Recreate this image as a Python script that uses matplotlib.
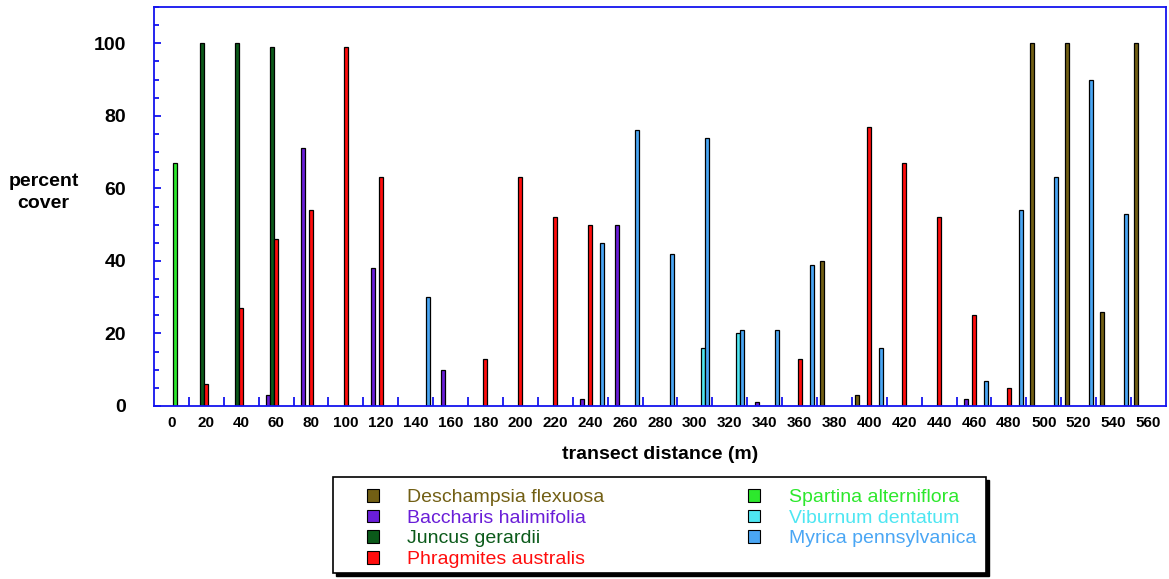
import numpy as np
import matplotlib.pyplot as plt
from matplotlib.patches import Patch, Rectangle
from matplotlib.ticker import MultipleLocator, FixedLocator

plt.rcParams['font.family'] = ['Liberation Sans', 'DejaVu Sans']

# transect positions (m)
distance = [0, 20, 40, 60, 80, 100, 120, 140, 160, 180, 200, 220, 240, 260,
            280, 300, 320, 340, 360, 380, 400, 420, 440, 460, 480, 500, 520,
            540, 560]

species = ['Deschampsia flexuosa', 'Baccharis halimifolia', 'Juncus gerardii',
           'Phragmites australis', 'Spartina alterniflora', 'Viburnum dentatum',
           'Myrica pennsylvanica']

# percent cover at each transect position
deschampsia = [0, 0, 0, 0, 0, 0, 0, 0, 0, 0, 0, 0, 0, 0, 0, 0, 0, 0, 0, 40,
               3, 0, 0, 0, 0, 100, 100, 26, 100]
baccharis = [0, 0, 0, 3, 71, 0, 38, 0, 10, 0, 0, 0, 2, 50, 0, 0, 0, 1, 0, 0,
             0, 0, 0, 2, 0, 0, 0, 0, 0]
juncus = [0, 100, 100, 99, 0, 0, 0, 0, 0, 0, 0, 0, 0, 0, 0, 0, 0, 0, 0, 0,
          0, 0, 0, 0, 0, 0, 0, 0, 0]
phragmites = [0, 6, 27, 46, 54, 99, 63, 0, 0, 13, 63, 52, 50, 0, 0, 0, 0, 0,
              13, 0, 77, 67, 52, 25, 5, 0, 0, 0, 0]
spartina = [67, 0, 0, 0, 0, 0, 0, 0, 0, 0, 0, 0, 0, 0, 0, 0, 0, 0, 0, 0,
            0, 0, 0, 0, 0, 0, 0, 0, 0]
viburnum = [0, 0, 0, 0, 0, 0, 0, 0, 0, 0, 0, 0, 0, 0, 0, 16, 20, 0, 0, 0,
            0, 0, 0, 0, 0, 0, 0, 0, 0]
myrica = [0, 0, 0, 0, 0, 0, 0, 30, 0, 0, 0, 0, 45, 76, 42, 74, 21, 21, 39, 0,
          16, 0, 0, 7, 54, 63, 90, 53, 0]

series = [deschampsia, baccharis, juncus, phragmites, spartina, viburnum, myrica]
colors = ['#725f14', '#6a1ed8', '#0b5a1a', '#ff0d0d', '#2de82d', '#4ee6f2',
          '#4aa6f4']
axis_blue = '#1414ee'

fig = plt.figure(figsize=(11.69, 5.79), dpi=100)
ax = fig.add_axes([0.1317, 0.2988, 0.8657, 0.6891])

pos = np.arange(len(distance))
slot = 0.115
for i, (vals, c) in enumerate(zip(series, colors)):
    vals = np.array(vals, dtype=float)
    m = vals > 0
    ax.bar(pos[m] + (i - 3) * slot, vals[m], width=slot, color=c,
           edgecolor='black', linewidth=0.9, zorder=2)

ax.set_xlim(-0.5, len(distance) - 0.5)
ax.set_ylim(0, 110)

for s in ax.spines.values():
    s.set_color(axis_blue)
    s.set_linewidth(1.3)

# x: labels at group centres, short blue ticks between groups
ax.set_xticks(pos)
ax.set_xticklabels([str(d) for d in distance], fontsize=11, fontweight='bold')
ax.xaxis.set_minor_locator(FixedLocator(pos[:-1] + 0.5))
ax.tick_params(axis='x', which='major', length=0, pad=7)
ax.tick_params(axis='x', which='minor', direction='in', length=6.5,
               width=1.3, color=axis_blue)

ax.set_yticks([0, 20, 40, 60, 80, 100])
ax.set_yticklabels(['0', '20', '40', '60', '80', '100'], fontsize=14,
                   fontweight='bold')
ax.yaxis.set_minor_locator(MultipleLocator(5))
ax.tick_params(axis='y', which='major', direction='in', length=5, width=1.3,
               color=axis_blue, pad=20)
ax.tick_params(axis='y', which='minor', direction='in', length=3.5, width=1.3,
               color=axis_blue)
ax.tick_params(top=False, right=False, which='both')

ax.set_xlabel('transect distance (m)', fontsize=14, fontweight='bold',
              labelpad=12)
ax.set_ylabel('percent\ncover', fontsize=14, fontweight='bold', rotation=0,
              ha='center', va='center', linespacing=1.45)
ax.yaxis.set_label_coords(-0.109, 0.535)

# legend box with a solid drop shadow
W, H = 1169, 579
bx0, bx1, by0, by1 = 333, 986, 477, 573
fig.patches.append(Rectangle(((bx0 + 3) / W, 1 - (by1 + 3) / H),
                             (bx1 - bx0) / W, (by1 - by0) / H,
                             transform=fig.transFigure, facecolor='black',
                             edgecolor='black', zorder=1))
fig.patches.append(Rectangle((bx0 / W, 1 - by1 / H),
                             (bx1 - bx0) / W, (by1 - by0) / H,
                             transform=fig.transFigure, facecolor='white',
                             edgecolor='black', linewidth=1.2, zorder=2))

handles = [Patch(facecolor=c, edgecolor='black', linewidth=0.8) for c in colors]
leg = fig.legend(handles, species, loc='upper left',
                 bbox_to_anchor=(367 / W, 1 - 489 / H), ncol=2, frameon=False,
                 fontsize=14, borderpad=0, borderaxespad=0,
                 handlelength=0.62, handleheight=0.62, handletextpad=1.45,
                 labelspacing=0.18, columnspacing=7.4)
leg.set_zorder(3)
for t, c in zip(leg.get_texts(), colors):
    t.set_color(c)

fig.savefig('out.png', dpi=100)
